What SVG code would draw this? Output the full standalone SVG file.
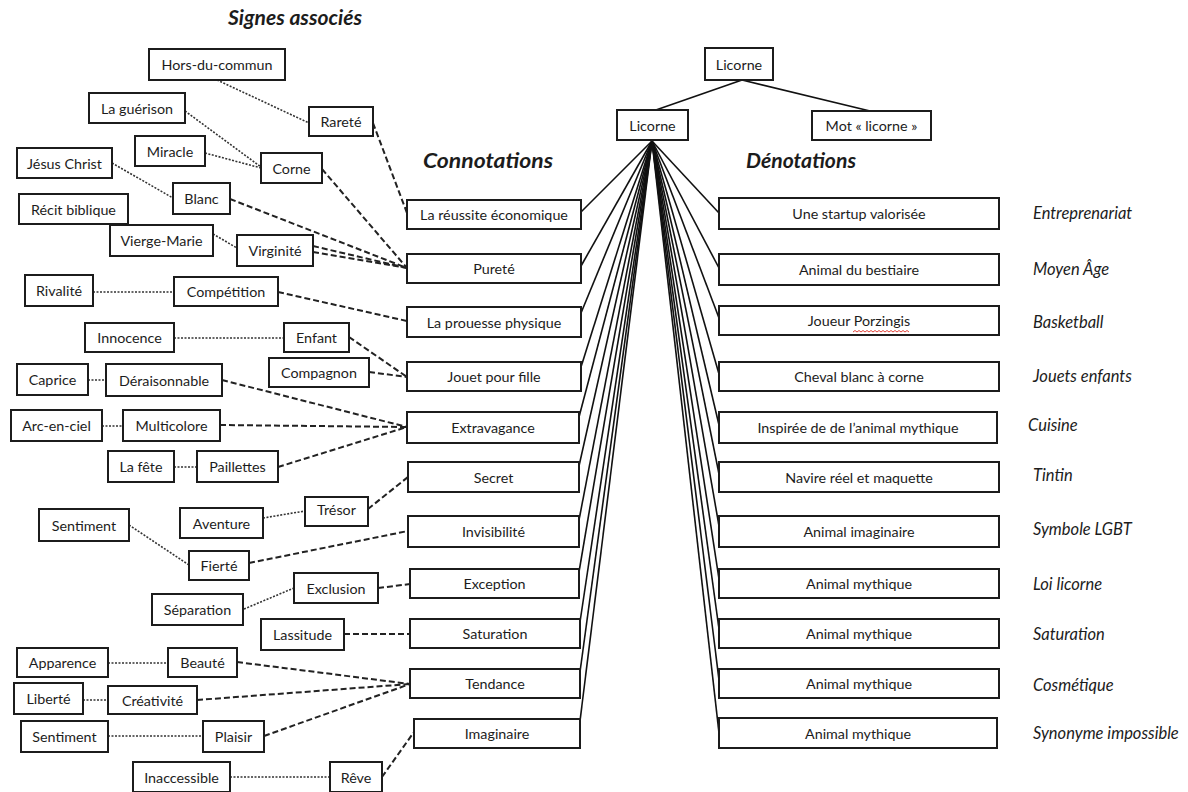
<svg xmlns="http://www.w3.org/2000/svg" width="1188" height="792" viewBox="0 0 1188 792">
<style>
.box{fill:#fff;stroke:#1c1c1c;stroke-width:2}
.t{font-family:Lato,"Open Sans",sans-serif;font-size:14.3px;fill:#1c1c1c;text-anchor:middle;dominant-baseline:central}
.h{font-family:Lato,"Open Sans",sans-serif;font-size:21px;font-weight:bold;font-style:italic;fill:#1c1c1c}
.lab{font-family:Lato,"Open Sans",sans-serif;font-size:16.5px;font-style:italic;fill:#1c1c1c}
.fan{stroke:#111;stroke-width:1.6;fill:none}
.dash{stroke:#222;stroke-width:2;stroke-dasharray:6 3;fill:none}
.dot{stroke:#333;stroke-width:1.6;stroke-dasharray:2 1.5;fill:none}
</style>
<rect width="1188" height="792" fill="#fff"/>
<g id="titles">
<text class="h" x="228" y="25" textLength="134" lengthAdjust="spacingAndGlyphs">Signes associés</text>
<text class="h" x="423" y="168" textLength="130" lengthAdjust="spacingAndGlyphs">Connotations</text>
<text class="h" x="746" y="168" textLength="110" lengthAdjust="spacingAndGlyphs">Dénotations</text>
</g>
<g id="connectors">
<line class="fan" x1="742" y1="80" x2="653" y2="111"/>
<line class="fan" x1="742" y1="80" x2="870" y2="111"/>
<g id="fan-left">
<line class="fan" x1="652" y1="141" x2="581" y2="212"/>
<line class="fan" x1="652" y1="141" x2="581" y2="266"/>
<line class="fan" x1="652" y1="141" x2="581" y2="313"/>
<line class="fan" x1="652" y1="141" x2="581" y2="367"/>
<line class="fan" x1="652" y1="141" x2="579" y2="417"/>
<line class="fan" x1="652" y1="141" x2="579" y2="466"/>
<line class="fan" x1="652" y1="141" x2="579" y2="520"/>
<line class="fan" x1="652" y1="141" x2="579" y2="572"/>
<line class="fan" x1="652" y1="141" x2="580" y2="622"/>
<line class="fan" x1="652" y1="141" x2="580" y2="672"/>
<line class="fan" x1="652" y1="141" x2="580" y2="721"/>
</g>
<g id="fan-right">
<line class="fan" x1="652" y1="141" x2="719" y2="213"/>
<line class="fan" x1="652" y1="141" x2="719" y2="268"/>
<line class="fan" x1="652" y1="141" x2="719" y2="318"/>
<line class="fan" x1="652" y1="141" x2="719" y2="374"/>
<line class="fan" x1="652" y1="141" x2="719" y2="425"/>
<line class="fan" x1="652" y1="141" x2="719" y2="474"/>
<line class="fan" x1="652" y1="141" x2="719" y2="526"/>
<line class="fan" x1="652" y1="141" x2="719" y2="579"/>
<line class="fan" x1="652" y1="141" x2="719" y2="629"/>
<line class="fan" x1="652" y1="141" x2="719" y2="680"/>
<line class="fan" x1="652" y1="141" x2="719" y2="733"/>
</g>
<g id="dashed">
<line class="dash" x1="373" y1="123" x2="407" y2="213"/>
<line class="dash" x1="322" y1="169" x2="407" y2="268"/>
<line class="dash" x1="230" y1="199" x2="407" y2="268"/>
<line class="dash" x1="313" y1="246" x2="407" y2="268"/>
<line class="dash" x1="313" y1="252" x2="407" y2="268"/>
<line class="dash" x1="278" y1="292" x2="407" y2="321"/>
<line class="dash" x1="349" y1="337" x2="407" y2="377"/>
<line class="dash" x1="369" y1="372" x2="407" y2="377"/>
<line class="dash" x1="222" y1="380" x2="407" y2="427"/>
<line class="dash" x1="220" y1="425" x2="407" y2="427"/>
<line class="dash" x1="278" y1="467" x2="407" y2="427"/>
<line class="dash" x1="368" y1="509" x2="408" y2="477"/>
<line class="dash" x1="249" y1="563" x2="408" y2="531"/>
<line class="dash" x1="378" y1="588" x2="410" y2="584"/>
<line class="dash" x1="344" y1="634" x2="410" y2="634"/>
<line class="dash" x1="237" y1="662" x2="410" y2="684"/>
<line class="dash" x1="197" y1="700" x2="410" y2="684"/>
<line class="dash" x1="264" y1="736" x2="410" y2="684"/>
<line class="dash" x1="382" y1="777" x2="414" y2="732"/>
</g>
<g id="dotted">
<line class="dot" x1="217" y1="80" x2="309" y2="123"/>
<line class="dot" x1="185" y1="111" x2="261" y2="167"/>
<line class="dot" x1="205" y1="153" x2="261" y2="168"/>
<line class="dot" x1="112" y1="163" x2="173" y2="198"/>
<line class="dot" x1="213" y1="234" x2="237" y2="248"/>
<line class="dot" x1="93" y1="292" x2="174" y2="292"/>
<line class="dot" x1="174" y1="338" x2="284" y2="338"/>
<line class="dot" x1="88" y1="380" x2="106" y2="380"/>
<line class="dot" x1="102" y1="426" x2="123" y2="426"/>
<line class="dot" x1="174" y1="467" x2="197" y2="467"/>
<line class="dot" x1="263" y1="518" x2="305" y2="511"/>
<line class="dot" x1="129" y1="525" x2="189" y2="565"/>
<line class="dot" x1="244" y1="609" x2="294" y2="588"/>
<line class="dot" x1="108" y1="663" x2="168" y2="663"/>
<line class="dot" x1="83" y1="700" x2="108" y2="700"/>
<line class="dot" x1="108" y1="736" x2="203" y2="736"/>
<line class="dot" x1="230" y1="777" x2="330" y2="777"/>
</g>
</g>
<g id="n-licorne-top"><rect class="box" x="705" y="48" width="68" height="32"/><text class="t" x="739" y="64">Licorne</text></g>
<g id="n-licorne"><rect class="box" x="617" y="110" width="71" height="30"/><text class="t" x="652.5" y="125">Licorne</text></g>
<g id="n-mot"><rect class="box" x="812" y="111" width="119" height="29"/><text class="t" x="871.5" y="125.5">Mot « licorne »</text></g>

<g id="n-hors"><rect class="box" x="149" y="49" width="136" height="31"/><text class="t" x="217" y="64.5">Hors-du-commun</text></g>
<g id="n-guerison"><rect class="box" x="89" y="93" width="96" height="30"/><text class="t" x="137" y="108">La guérison</text></g>
<g id="n-rarete"><rect class="box" x="309" y="107" width="64" height="29"/><text class="t" x="341" y="121.5">Rareté</text></g>
<g id="n-miracle"><rect class="box" x="135" y="136" width="70" height="30"/><text class="t" x="170" y="151">Miracle</text></g>
<g id="n-corne"><rect class="box" x="261" y="153" width="61" height="30"/><text class="t" x="291.5" y="168">Corne</text></g>
<g id="n-jesus"><rect class="box" x="17" y="148" width="95" height="30"/><text class="t" x="64.5" y="163">Jésus Christ</text></g>
<g id="n-blanc"><rect class="box" x="173" y="183" width="57" height="31"/><text class="t" x="201.5" y="198.5">Blanc</text></g>
<g id="n-recit"><rect class="box" x="19" y="194" width="109" height="30"/><text class="t" x="73.5" y="209">Récit biblique</text></g>
<g id="n-vierge"><rect class="box" x="110" y="225" width="103" height="31"/><text class="t" x="161.5" y="240.5">Vierge-Marie</text></g>
<g id="n-virginite"><rect class="box" x="237" y="235" width="76" height="31"/><text class="t" x="275" y="250.5">Virginité</text></g>
<g id="n-rivalite"><rect class="box" x="25" y="275" width="68" height="31"/><text class="t" x="59" y="290.5">Rivalité</text></g>
<g id="n-competition"><rect class="box" x="174" y="277" width="104" height="29"/><text class="t" x="226" y="291.5">Compétition</text></g>
<g id="n-innocence"><rect class="box" x="85" y="323" width="89" height="29"/><text class="t" x="129.5" y="337.5">Innocence</text></g>
<g id="n-enfant"><rect class="box" x="284" y="323" width="65" height="29"/><text class="t" x="316.5" y="337.5">Enfant</text></g>
<g id="n-compagnon"><rect class="box" x="269" y="358" width="100" height="29"/><text class="t" x="319" y="372.5">Compagnon</text></g>
<g id="n-caprice"><rect class="box" x="17" y="364" width="71" height="31"/><text class="t" x="52.5" y="379.5">Caprice</text></g>
<g id="n-deraisonnable"><rect class="box" x="106" y="364" width="116" height="32"/><text class="t" x="164" y="380">Déraisonnable</text></g>
<g id="n-arc"><rect class="box" x="11" y="410" width="91" height="31"/><text class="t" x="56.5" y="425.5">Arc-en-ciel</text></g>
<g id="n-multicolore"><rect class="box" x="123" y="410" width="97" height="31"/><text class="t" x="171.5" y="425.5">Multicolore</text></g>
<g id="n-fete"><rect class="box" x="108" y="451" width="66" height="31"/><text class="t" x="141" y="466.5">La fête</text></g>
<g id="n-paillettes"><rect class="box" x="197" y="451" width="81" height="31"/><text class="t" x="237.5" y="466.5">Paillettes</text></g>
<g id="n-tresor"><rect class="box" x="305" y="497" width="63" height="29"/><text class="t" x="336.5" y="509">Trésor</text></g>
<g id="n-aventure"><rect class="box" x="180" y="508" width="83" height="30"/><text class="t" x="221.5" y="523">Aventure</text></g>
<g id="n-sentiment1"><rect class="box" x="39" y="509" width="90" height="32"/><text class="t" x="84" y="525">Sentiment</text></g>
<g id="n-fierte"><rect class="box" x="189" y="551" width="60" height="29"/><text class="t" x="219" y="565.5">Fierté</text></g>
<g id="n-exclusion"><rect class="box" x="294" y="573" width="84" height="30"/><text class="t" x="336" y="588">Exclusion</text></g>
<g id="n-separation"><rect class="box" x="152" y="594" width="91" height="31"/><text class="t" x="197.5" y="609.5">Séparation</text></g>
<g id="n-lassitude"><rect class="box" x="261" y="619" width="83" height="31"/><text class="t" x="302.5" y="634.5">Lassitude</text></g>
<g id="n-apparence"><rect class="box" x="17" y="648" width="91" height="29"/><text class="t" x="62.5" y="662.5">Apparence</text></g>
<g id="n-beaute"><rect class="box" x="168" y="648" width="69" height="29"/><text class="t" x="202.5" y="662.5">Beauté</text></g>
<g id="n-liberte"><rect class="box" x="14" y="683" width="69" height="31"/><text class="t" x="48.5" y="698.5">Liberté</text></g>
<g id="n-creativite"><rect class="box" x="108" y="686" width="89" height="28"/><text class="t" x="152.5" y="700">Créativité</text></g>
<g id="n-sentiment2"><rect class="box" x="21" y="721" width="87" height="31"/><text class="t" x="64.5" y="736.5">Sentiment</text></g>
<g id="n-plaisir"><rect class="box" x="203" y="721" width="61" height="31"/><text class="t" x="233.5" y="736.5">Plaisir</text></g>
<g id="n-inaccessible"><rect class="box" x="133" y="762" width="97" height="30"/><text class="t" x="181.5" y="777">Inaccessible</text></g>
<g id="n-reve"><rect class="box" x="330" y="762" width="52" height="30"/><text class="t" x="356" y="777">Rêve</text></g>

<g id="n-reussite"><rect class="box" x="407" y="200" width="174" height="29"/><text class="t" x="494" y="214.5">La réussite économique</text></g>
<g id="n-purete"><rect class="box" x="407" y="254" width="174" height="29"/><text class="t" x="494" y="268.5">Pureté</text></g>
<g id="n-prouesse"><rect class="box" x="407" y="307" width="174" height="30"/><text class="t" x="494" y="322">La prouesse physique</text></g>
<g id="n-jouet"><rect class="box" x="407" y="362" width="174" height="29"/><text class="t" x="494" y="376.5">Jouet pour fille</text></g>
<g id="n-extravagance"><rect class="box" x="407" y="412" width="172" height="31"/><text class="t" x="493" y="427.5">Extravagance</text></g>
<g id="n-secret"><rect class="box" x="408" y="462" width="171" height="30"/><text class="t" x="493.5" y="477">Secret</text></g>
<g id="n-invisibilite"><rect class="box" x="408" y="516" width="171" height="31"/><text class="t" x="493.5" y="531.5">Invisibilité</text></g>
<g id="n-exception"><rect class="box" x="410" y="569" width="169" height="29"/><text class="t" x="494.5" y="583.5">Exception</text></g>
<g id="n-saturation"><rect class="box" x="410" y="619" width="170" height="29"/><text class="t" x="495" y="633.5">Saturation</text></g>
<g id="n-tendance"><rect class="box" x="410" y="669" width="170" height="29"/><text class="t" x="495" y="683.5">Tendance</text></g>
<g id="n-imaginaire"><rect class="box" x="414" y="719" width="166" height="29"/><text class="t" x="497" y="733.5">Imaginaire</text></g>

<g id="n-startup"><rect class="box" x="719" y="198" width="280" height="31"/><text class="t" x="859" y="213.5">Une startup valorisée</text></g>
<g id="n-bestiaire"><rect class="box" x="719" y="254" width="280" height="31"/><text class="t" x="859" y="269.5">Animal du bestiaire</text></g>
<g id="n-porzingis"><rect class="box" x="719" y="306" width="280" height="29"/><text class="t" x="859" y="320.5">Joueur Porzingis</text><path d="M853 332 l2 -1.5 l2 1.5 l2 -1.5 l2 1.5 l2 -1.5 l2 1.5 l2 -1.5 l2 1.5 l2 -1.5 l2 1.5 l2 -1.5 l2 1.5 l2 -1.5 l2 1.5 l2 -1.5 l2 1.5 l2 -1.5 l2 1.5 l2 -1.5 l2 1.5 l2 -1.5 l2 1.5 l2 -1.5 l2 1.5 l2 -1.5 l2 1.5 l2 -1.5 l2 1.5" fill="none" stroke="#e0443a" stroke-width="1"/></g>
<g id="n-cheval"><rect class="box" x="719" y="362" width="280" height="29"/><text class="t" x="859" y="376.5">Cheval blanc à corne</text></g>
<g id="n-inspiree"><rect class="box" x="719" y="412" width="278" height="31"/><text class="t" x="858" y="427.5">Inspirée de de l’animal mythique</text></g>
<g id="n-navire"><rect class="box" x="719" y="462" width="280" height="30"/><text class="t" x="859" y="477">Navire réel et maquette</text></g>
<g id="n-imaginaire-d"><rect class="box" x="719" y="516" width="280" height="31"/><text class="t" x="859" y="531.5">Animal imaginaire</text></g>
<g id="n-mythique1"><rect class="box" x="719" y="569" width="280" height="29"/><text class="t" x="859" y="583.5">Animal mythique</text></g>
<g id="n-mythique2"><rect class="box" x="719" y="619" width="280" height="29"/><text class="t" x="859" y="633.5">Animal mythique</text></g>
<g id="n-mythique3"><rect class="box" x="719" y="669" width="280" height="29"/><text class="t" x="859" y="683.5">Animal mythique</text></g>
<g id="n-mythique4"><rect class="box" x="719" y="718" width="278" height="30"/><text class="t" x="858" y="733">Animal mythique</text></g>

<g id="domains">
<text class="lab" x="1033" y="219">Entreprenariat</text>
<text class="lab" x="1033" y="275">Moyen Âge</text>
<text class="lab" x="1033" y="328">Basketball</text>
<text class="lab" x="1033" y="382">Jouets enfants</text>
<text class="lab" x="1028" y="431">Cuisine</text>
<text class="lab" x="1033" y="481">Tintin</text>
<text class="lab" x="1033" y="535">Symbole LGBT</text>
<text class="lab" x="1033" y="590">Loi licorne</text>
<text class="lab" x="1033" y="640">Saturation</text>
<text class="lab" x="1033" y="691">Cosmétique</text>
<text class="lab" x="1033" y="739">Synonyme impossible</text>
</g>
</svg>
